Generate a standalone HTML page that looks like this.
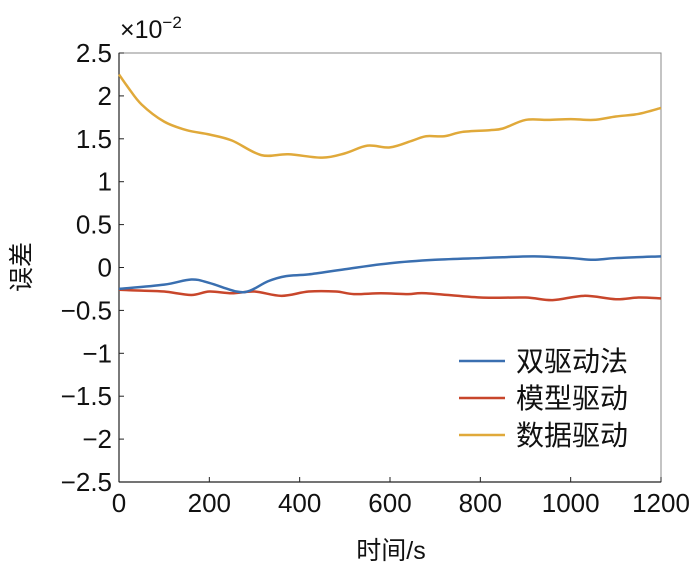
<!DOCTYPE html>
<html><head><meta charset="utf-8"><style>
body{margin:0;background:#fff;}
svg text{font-family:"Liberation Sans","Noto Sans CJK SC",sans-serif;fill:#111;}
</style></head><body>
<svg width="700" height="574" viewBox="0 0 700 574">
<g id="axes"></g>
<g id="series"></g>
<g id="legend"></g>
</svg>
<script>
const xTicks=[0,200,400,600,800,1000,1200];
const yTicks=[2.5,2,1.5,1,0.5,0,-0.5,-1,-1.5,-2,-2.5];
const yTickLabels=["2.5","2","1.5","1","0.5","0","\u22120.5","\u22121","\u22121.5","\u22122","\u22122.5"];
const seriesNames=["双驱动法","模型驱动","数据驱动"];
const seriesColors=["#3a6fb0","#c8462b","#e0a93a"];
const blueX=[0,100,160,200,260,290,330,370,420,500,600,700,800,850,920,1000,1050,1100,1200];
const blueY=[-0.25,-0.2,-0.14,-0.18,-0.28,-0.27,-0.16,-0.1,-0.08,-0.02,0.05,0.09,0.11,0.12,0.13,0.11,0.09,0.11,0.13];
const redX=[0,50,100,160,200,250,300,360,420,480,520,580,640,680,800,900,960,1030,1100,1150,1200];
const redY=[-0.26,-0.27,-0.28,-0.32,-0.28,-0.3,-0.28,-0.33,-0.28,-0.28,-0.31,-0.3,-0.31,-0.3,-0.35,-0.35,-0.38,-0.33,-0.37,-0.35,-0.36];
const yelX=[0,20,50,100,150,200,250,315,375,450,500,550,600,650,680,720,760,820,850,900,950,1000,1050,1100,1150,1200];
const yelY=[2.25,2.1,1.9,1.7,1.6,1.55,1.48,1.31,1.32,1.28,1.33,1.42,1.4,1.48,1.53,1.53,1.58,1.6,1.62,1.72,1.72,1.73,1.72,1.76,1.79,1.86];

const L=119,R=661,T=53,B=482;
const sx=v=>L+(v/1200)*(R-L);
const sy=v=>T+(2.5-v)/5*(B-T);
const NS="http://www.w3.org/2000/svg";
function mk(tag,attrs,parent,txt){const e=document.createElementNS(NS,tag);for(const k in attrs)e.setAttribute(k,attrs[k]);if(txt!==undefined)e.textContent=txt;parent.appendChild(e);return e;}
const ax=document.getElementById('axes');
let fr=mk('rect',{x:L,y:T,width:R-L,height:B-T,fill:'none',stroke:'#888','stroke-width':1},ax);


let xl=mk('line',{x1:L,y1:B,x2:R,y2:B,stroke:'#222','stroke-width':1.2},ax);


let yl=mk('line',{x1:L,y1:T,x2:L,y2:B,stroke:'#222','stroke-width':1.2},ax);


xTicks.forEach(v=>{
 let t=mk('line',{x1:sx(v),y1:B,x2:sx(v),y2:B-5,stroke:'#222'},ax);
 
 
 let l=mk('text',{x:sx(v),y:B+30,'text-anchor':'middle','font-size':26},ax,String(v));
 
 
});
yTicks.forEach((v,i)=>{
 let t=mk('line',{x1:L,y1:sy(v),x2:L+5,y2:sy(v),stroke:'#222'},ax);
 
 
 let l=mk('text',{x:L-7,y:sy(v)+9,'text-anchor':'end','font-size':26},ax,yTickLabels[i]);
 
 
});
let ex=mk('text',{x:120,y:38,'font-size':25},ax,"×10");


mk('tspan',{dy:-10,'font-size':17},ex,"−2");
let xt=mk('text',{x:391,y:559,'text-anchor':'middle','font-size':25},ax,"时间/s");


let yt=mk('text',{x:0,y:0,'text-anchor':'middle','font-size':25,transform:'translate(30,267) rotate(-90)'},ax,"误差");



function smooth(xs,ys){
 const p=xs.map((x,i)=>[sx(x),sy(ys[i])]);
 let d="M"+p[0][0]+","+p[0][1];
 for(let i=0;i<p.length-1;i++){
  const p0=p[i-1]||p[i],p1=p[i],p2=p[i+1],p3=p[i+2]||p[i+1];
  const c1=[p1[0]+(p2[0]-p0[0])/6,p1[1]+(p2[1]-p0[1])/6];
  const c2=[p2[0]-(p3[0]-p1[0])/6,p2[1]-(p3[1]-p1[1])/6];
  d+=` C${c1[0]},${c1[1]} ${c2[0]},${c2[1]} ${p2[0]},${p2[1]}`;
 }
 return d;
}
const sg=document.getElementById('series');
const all=[[blueX,blueY],[redX,redY],[yelX,yelY]];
const names=['line-dual-drive','line-model-drive','line-data-drive'];
[2,1,0].forEach(i=>{
 let p=mk('path',{d:smooth(all[i][0],all[i][1]),fill:'none',stroke:seriesColors[i],'stroke-width':2.5},sg);
 
 
});
const lg=document.getElementById('legend');
seriesNames.forEach((n,i)=>{
 const y=361+i*37;
 let g=mk('g',{},lg);
 
 
 mk('line',{x1:459,y1:y,x2:505,y2:y,stroke:seriesColors[i],'stroke-width':2.5},g);
 mk('text',{x:516,y:y+10,'font-size':28},g,n);
});
</script>
</body></html>
